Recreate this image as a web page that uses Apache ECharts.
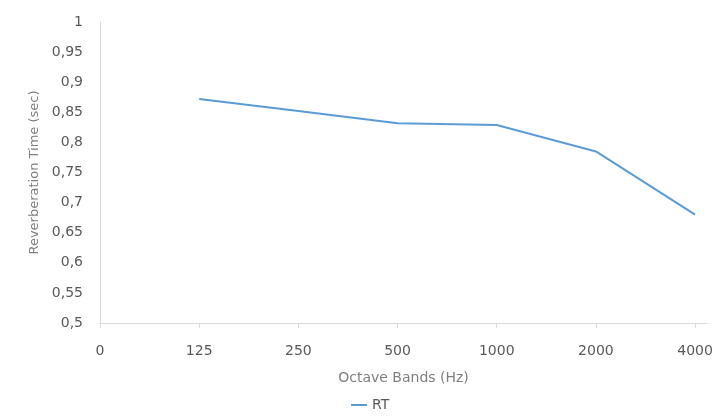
<!DOCTYPE html>
<html><head><meta charset="utf-8">
<script src="https://cdn.jsdelivr.net/npm/echarts@6/dist/echarts.min.js"></script>
<style>html,body{margin:0;padding:0;background:#fff}#c{width:723px;height:420px}</style>
</head><body><div id="c"></div>
<script>
const xLabels = ['0', '125', '250', '500', '1000', '2000', '4000'];
const rtValues = [null, 0.872, 0.852, 0.832, 0.829, 0.785, 0.680];
const seriesName = 'RT';
const xTitle = 'Octave Bands (Hz)';
const yTitle = 'Reverberation Time (sec)';

const font = 'DejaVu Sans';
const chart = echarts.init(document.getElementById('c'));
const tickIdx = xLabels.map((_, i) => i);
chart.setOption({
  animation: false,
  grid: { left: 100, right: 16, top: 22, bottom: 97 },
  xAxis: {
    type: 'value', min: 0, max: 6.12, interval: 1,
    name: xTitle, nameLocation: 'middle', nameGap: 48,
    nameTextStyle: { color: '#7f7f7f', fontSize: 14, fontFamily: font },
    axisLine: { lineStyle: { color: '#d9d9d9', width: 1 } },
    axisTick: { show: true, customValues: tickIdx, length: 5, lineStyle: { color: '#d9d9d9' } },
    axisLabel: { customValues: tickIdx, color: '#595959', fontSize: 14, fontFamily: font, margin: 21,
      formatter: v => xLabels[Math.round(v)] },
    splitLine: { show: false }
  },
  yAxis: {
    type: 'value', min: 0.5, max: 1, interval: 0.05,
    name: yTitle, nameLocation: 'middle', nameGap: 56, nameRotate: 90,
    nameTextStyle: { color: '#7f7f7f', fontSize: 13, fontFamily: font },
    axisLine: { show: true, lineStyle: { color: '#d9d9d9', width: 1 } },
    axisTick: { show: false },
    axisLabel: { color: '#595959', fontSize: 14, fontFamily: font, margin: 17,
      formatter: v => String(+v.toFixed(2)).replace('.', ',') },
    splitLine: { show: false }
  },
  legend: {
    bottom: 3, left: 346, icon: 'rect', itemWidth: 16, itemHeight: 2, itemGap: 4,
    textStyle: { color: '#595959', fontSize: 14, fontFamily: font },
    data: [seriesName]
  },
  series: [{
    name: seriesName, type: 'line', symbol: 'none',
    data: rtValues.map((v, i) => [i, v]),
    lineStyle: { color: '#5b9bd5', width: 2 },
    itemStyle: { color: '#5b9bd5' }
  }]
});
</script></body></html>
